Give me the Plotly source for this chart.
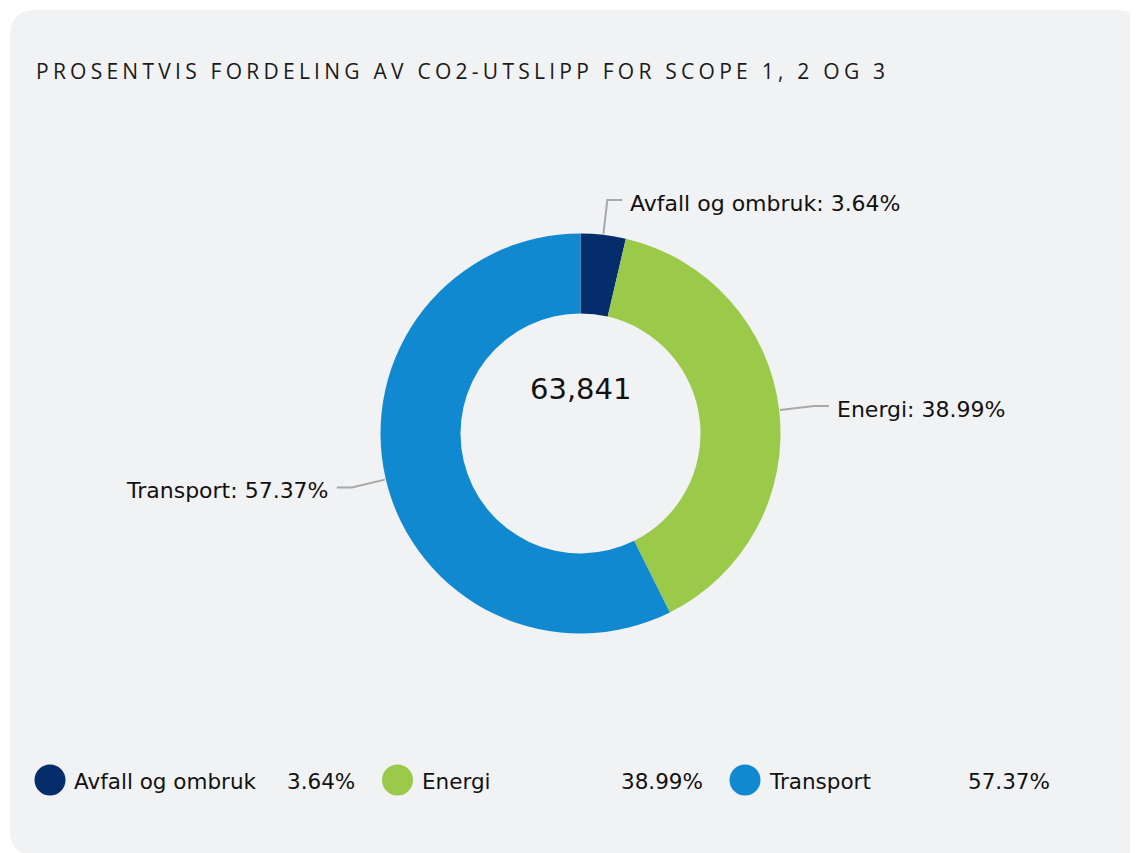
import math
import plotly.graph_objects as go

# ---- data ----
categories = ["Avfall og ombruk", "Energi", "Transport"]
shares = [3.64, 38.99, 57.37]
colors = ["#052C6B", "#9BC94A", "#1189D1"]
total_label = "63,841"
title_text = "PROSENTVIS FORDELING AV CO2-UTSLIPP FOR SCOPE 1, 2 OG 3"

# ---- layout constants (screen pixels) ----
W, H = 1138, 853
OFF = 8  # page body margin
CX, CY = 580.5, 433.5
R_OUT = 200
HOLE = 0.6
FONT = "DejaVu Sans"
TXT = "#111111"
LINE = "#A8A8A8"

fig = go.Figure()

# card background (rounded rect)
x0, y0, x1, y1, rr = 10, 10, 1142, 856, 26
card = (f"M {x0+rr},{y0} L {x1-rr},{y0} Q {x1},{y0} {x1},{y0+rr} "
        f"L {x1},{y1-rr} Q {x1},{y1} {x1-rr},{y1} L {x0+rr},{y1} "
        f"Q {x0},{y1} {x0},{y1-rr} L {x0},{y0+rr} Q {x0},{y0} {x0+rr},{y0} Z")
fig.add_shape(type="path", path=card, xref="x", yref="y", fillcolor="#F1F2F4",
              line=dict(width=0), layer="below")

# donut
fig.add_trace(go.Pie(
    labels=categories, values=shares, hole=HOLE, sort=False,
    direction="clockwise", rotation=0, textinfo="none",
    marker=dict(colors=colors, line=dict(width=0)),
    domain=dict(x=[(CX - OFF - R_OUT) / W, (CX - OFF + R_OUT) / W],
                y=[1 - (CY - OFF + R_OUT) / H, 1 - (CY - OFF - R_OUT) / H]),
    showlegend=False, hoverinfo="label+percent",
))

# outside labels with leader lines
tot = sum(shares)
cum = 0.0
for cat, v in zip(categories, shares):
    mid = (cum + v / 2) / tot * 2 * math.pi
    cum += v
    sx, sy = math.sin(mid), -math.cos(mid)
    px0, py0 = CX + (R_OUT + 1) * sx, CY + (R_OUT + 1) * sy
    px1, py1 = CX + (R_OUT + 35) * sx, CY + (R_OUT + 35) * sy
    d = 1 if sx >= 0 else -1
    px2 = px1 + 15 * d
    fig.add_trace(go.Scatter(x=[px0, px1, px2], y=[py0, py1, py1], mode="lines",
                             line=dict(color=LINE, width=2), hoverinfo="skip",
                             showlegend=False))
    fig.add_annotation(x=px2 + 6 * d, y=py1 + 3, xref="x", yref="y",
                       text=f"{cat}: {v:.2f}%", showarrow=False,
                       xanchor="left" if d > 0 else "right", yanchor="middle",
                       font=dict(family=FONT, size=22, color=TXT))

# centre total
fig.add_annotation(x=CX, y=389, xref="x", yref="y", text=total_label, showarrow=False,
                   xanchor="center", yanchor="middle",
                   font=dict(family=FONT, size=29, color=TXT))

# title
fig.add_annotation(x=34, y=71, xref="x", yref="y",
                   text=f'<span style="letter-spacing:4.25px">{title_text}</span>',
                   showarrow=False, xanchor="left", yanchor="middle",
                   font=dict(family="Open Sans", size=21, color="#1a1a1a"))

# custom legend
LEG_Y = 780
LEG_X0 = 50
LEG_STEP = 347.5
lx = [LEG_X0 + i * LEG_STEP for i in range(len(categories))]
fig.add_trace(go.Scatter(x=lx, y=[LEG_Y] * len(lx), mode="markers",
                         marker=dict(size=31, color=colors, line=dict(width=0)),
                         hoverinfo="skip", showlegend=False))
for x, cat, v in zip(lx, categories, shares):
    fig.add_annotation(x=x + 22, y=LEG_Y + 1, xref="x", yref="y", text=cat,
                       showarrow=False, xanchor="left", yanchor="middle",
                       font=dict(family=FONT, size=21.5, color=TXT))
    fig.add_annotation(x=x + 307, y=LEG_Y + 1, xref="x", yref="y", text=f"{v:.2f}%",
                       showarrow=False, xanchor="right", yanchor="middle",
                       font=dict(family=FONT, size=21.5, color=TXT))

fig.update_layout(
    width=W, height=H, margin=dict(l=0, r=0, t=0, b=0),
    paper_bgcolor="white", plot_bgcolor="rgba(0,0,0,0)",
    xaxis=dict(range=[OFF, W + OFF], visible=False, fixedrange=True, domain=[0, 1]),
    yaxis=dict(range=[H + OFF, OFF], visible=False, fixedrange=True, domain=[0, 1]),
    showlegend=False,
)

fig.write_html("out.html")
